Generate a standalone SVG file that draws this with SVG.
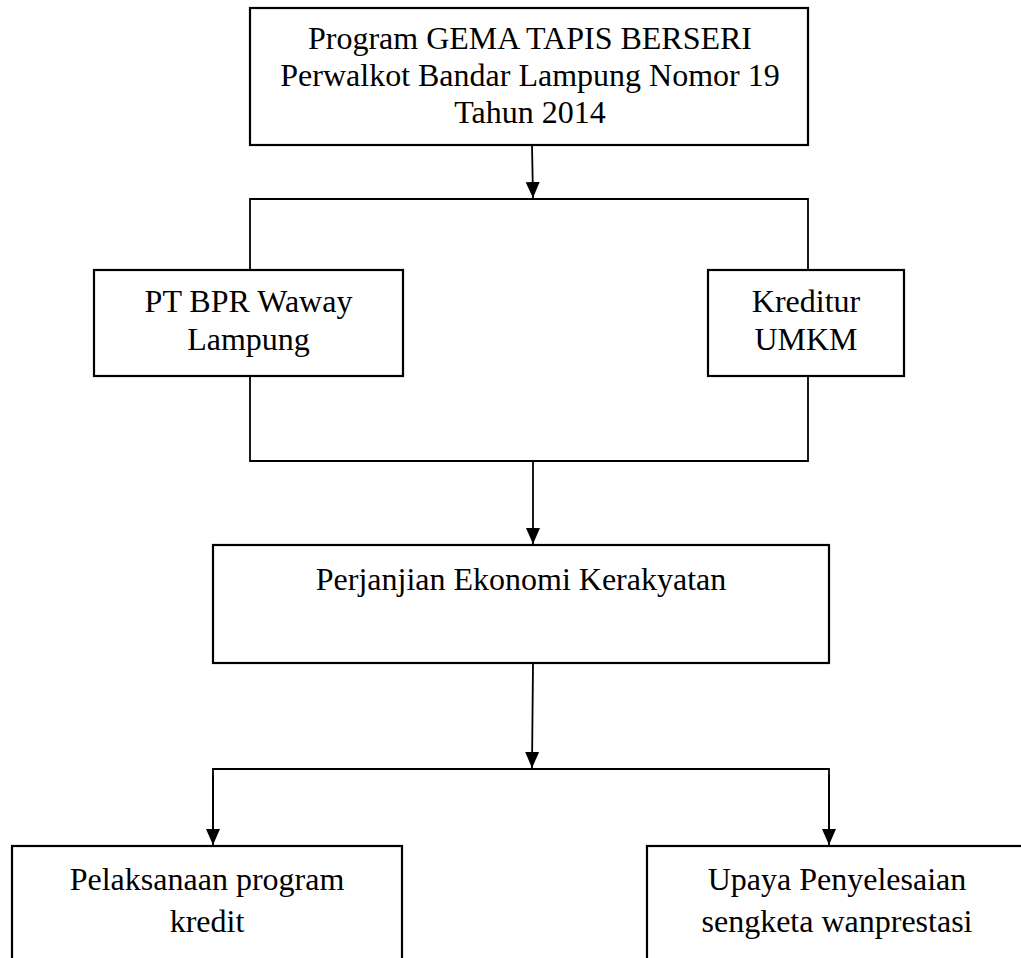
<svg xmlns="http://www.w3.org/2000/svg" width="1021" height="958" viewBox="0 0 1021 958">
<defs>
<style>
.box{fill:#fff;stroke:#000;stroke-width:2.2}
.ln{fill:none;stroke:#000;stroke-width:1.8}
text{font-family:"Liberation Serif","Times New Roman",serif;font-size:32px;fill:#000;text-anchor:middle}
</style>
<marker id="ah" markerUnits="userSpaceOnUse" markerWidth="16" markerHeight="16" refX="16" refY="8" orient="auto">
<path d="M0,1 L16,8 L0,15 Z" fill="#000"/>
</marker>
</defs>
<rect width="1021" height="958" fill="#fff"/>
<g id="connectors">
<path class="ln" d="M532,145 L533,198" marker-end="url(#ah)"/>
<path class="ln" d="M250,270 L250,199 L808,199 L808,270"/>
<path class="ln" d="M250,376 L250,461 L808,461 L808,376"/>
<path class="ln" d="M533,461 L533,544" marker-end="url(#ah)"/>
<path class="ln" d="M533,664 L532,768" marker-end="url(#ah)"/>
<path class="ln" d="M213,845 L213,769 L829,769 L829,845"/>
<path class="ln" d="M213,775 L213,845" marker-end="url(#ah)"/>
<path class="ln" d="M829,775 L829,845" marker-end="url(#ah)"/>
</g>
<g id="node-top">
<rect class="box" x="250" y="8" width="558" height="137"/>
<text x="530" y="49">Program GEMA TAPIS BERSERI</text>
<text x="530" y="86">Perwalkot Bandar Lampung Nomor 19</text>
<text x="530" y="123">Tahun 2014</text>
</g>
<g id="node-bpr">
<rect class="box" x="94" y="270" width="309" height="106"/>
<text x="248.5" y="312">PT BPR Waway</text>
<text x="248.5" y="350">Lampung</text>
</g>
<g id="node-kreditur">
<rect class="box" x="708" y="270" width="196" height="106"/>
<text x="806" y="312">Kreditur</text>
<text x="806" y="350">UMKM</text>
</g>
<g id="node-perjanjian">
<rect class="box" x="213" y="545" width="616" height="118"/>
<text x="521" y="590">Perjanjian Ekonomi Kerakyatan</text>
</g>
<g id="node-pelaksanaan">
<rect class="box" x="12" y="846" width="390" height="140"/>
<text x="207" y="890">Pelaksanaan program</text>
<text x="207" y="932">kredit</text>
</g>
<g id="node-upaya">
<rect class="box" x="647" y="846" width="380" height="140"/>
<text x="837" y="890">Upaya Penyelesaian</text>
<text x="837" y="932">sengketa wanprestasi</text>
</g>
</svg>
